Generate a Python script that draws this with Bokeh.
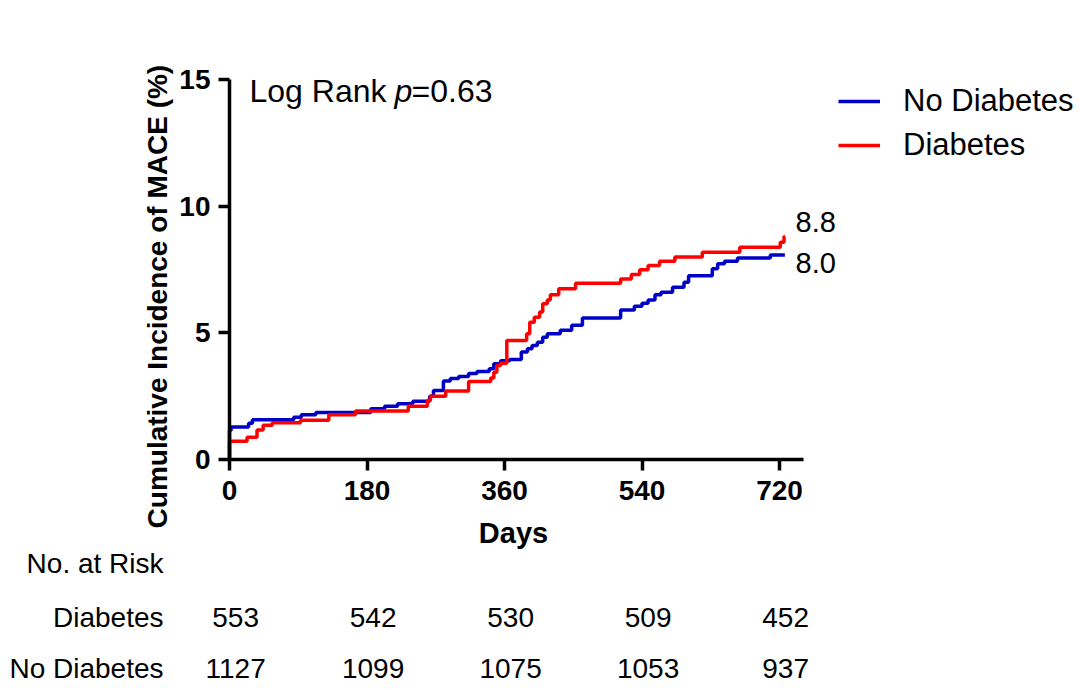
from bokeh.plotting import figure
from bokeh.models import Range1d, LinearAxis, FixedTicker, Legend, LegendItem
from bokeh.core.properties import value
from bokeh.embed import file_html
from bokeh.resources import INLINE

FONT = "Liberation Sans"

# ---------------- data ----------------
x_ticks = [0, 180, 360, 540, 720]
y_ticks = [0, 5, 10, 15]

no_diab_days = [0, 0, 2, 25, 30, 84, 94, 113, 185, 203, 220, 240, 262, 267, 280, 289, 300, 313,
                324, 340, 346, 355, 367, 382, 390, 396, 403, 410, 416, 433, 448, 462, 512, 530,
                540, 548, 557, 565, 580, 595, 601, 632, 639, 648, 665, 708, 727]
no_diab_pct = [0, 1.15, 1.28, 1.43, 1.57, 1.67, 1.77, 1.86, 2.0, 2.1, 2.2, 2.3, 2.5, 2.72, 3.1, 3.2,
               3.28, 3.4, 3.47, 3.58, 3.78, 3.9, 3.95, 4.24, 4.37, 4.5, 4.63, 4.83, 4.96, 5.1, 5.3,
               5.59, 5.9, 6.05, 6.17, 6.3, 6.5, 6.6, 6.8, 7.0, 7.25, 7.53, 7.73, 7.83, 7.96, 8.07, 8.07]

diab_days = [0, 0, 23, 36, 44, 56, 93, 130, 165, 234, 259, 263, 283, 313, 342, 346, 350, 355, 363,
             389, 393, 399, 406, 410, 416, 420, 431, 453, 512, 526, 537, 548, 563, 583, 619, 668,
             721, 726, 727]
diab_pct = [0, 0.72, 0.88, 1.17, 1.35, 1.45, 1.55, 1.77, 1.92, 2.1, 2.33, 2.5, 2.7, 3.08, 3.22, 3.45,
            3.71, 3.8, 4.7, 4.96, 5.42, 5.62, 5.82, 6.15, 6.3, 6.5, 6.74, 6.96, 7.13, 7.3, 7.49, 7.66,
            7.83, 7.99, 8.18, 8.38, 8.58, 8.8, 8.8]

series_names = ["No Diabetes", "Diabetes"]
end_labels = ["8.8", "8.0"]

risk_rows = ["Diabetes", "No Diabetes"]
risk_diab = [553, 542, 530, 509, 452]
risk_nodiab = [1127, 1099, 1075, 1053, 937]

# ---------------- figure ----------------
p = figure(width=1076, height=686, output_backend="svg", toolbar_location=None,
           x_range=Range1d(-299.8, 1108.8), y_range=Range1d(-8.96, 18.12),
           x_axis_type=None, y_axis_type=None,
           min_border=0, min_border_left=0, min_border_right=0,
           min_border_top=0, min_border_bottom=0)
p.outline_line_color = None
p.background_fill_color = "white"
p.border_fill_color = "white"

xaxis = LinearAxis(fixed_location=0, bounds=(0, 751), ticker=FixedTicker(ticks=x_ticks))
yaxis = LinearAxis(fixed_location=0, bounds=(0, 15), ticker=FixedTicker(ticks=y_ticks))
for ax in (xaxis, yaxis):
    ax.axis_line_width = 3.5
    ax.axis_line_color = "black"
    ax.major_tick_line_width = 3.5
    ax.major_tick_line_color = "black"
    ax.major_tick_in = 0
    ax.major_tick_out = 11
    ax.minor_tick_line_color = None
    ax.major_label_text_font = FONT
    ax.major_label_text_font_style = "bold"
    ax.major_label_text_font_size = "28px"
    ax.major_label_text_color = "black"
xaxis.major_label_standoff = 10
yaxis.major_label_standoff = 8
p.add_layout(xaxis, "below")
p.add_layout(yaxis, "left")

blue = p.step(no_diab_days, no_diab_pct, mode="after", line_color="#0000C8", line_width=3.5)
red = p.step(diab_days, diab_pct, mode="after", line_color="#FF0000", line_width=3.5)

legend = Legend(items=[LegendItem(label=series_names[0], renderers=[blue]),
                       LegendItem(label=series_names[1], renderers=[red])],
                location=(838, 521), glyph_width=42, glyph_height=40, label_height=40,
                spacing=4, label_standoff=23, padding=0, margin=0,
                border_line_color=None, background_fill_alpha=0,
                label_text_font=FONT, label_text_font_size="31px",
                label_text_color="black")
p.add_layout(legend)

def txt(x, y, t, size, align="left", style="normal", angle=0):
    p.text(x=x, y=y, text=t, text_font=value(FONT), text_font_size=value(size),
           text_align=align, text_baseline="middle", text_font_style=style,
           text_color="black", angle=angle)

# axis titles
txt([-94.3], [6.43], ["Cumulative Incidence of MACE (%)"], "28px", align="center",
    style="bold", angle=1.5708)
txt([371.8], [-2.92], ["Days"], "29px", align="center", style="bold")

# log rank annotation
txt([26.2], [14.53], ["Log Rank"], "32px")
txt([216.0], [14.53], ["p"], "32px", style="italic")
txt([238.3], [14.53], ["=0.63"], "32px")

# end values
txt([741, 741], [9.36, 7.74], end_labels, "29px")

# risk table
col_x = [d + 8 for d in x_ticks]
txt([-86.4], [-4.11], ["No. at Risk"], "28px", align="right")
txt([-86.4, -86.4], [-6.24, -8.25], risk_rows, "28px", align="right")
txt(col_x, [-6.24] * 5, [str(v) for v in risk_diab], "28px", align="center")
txt(col_x, [-8.25] * 5, [str(v) for v in risk_nodiab], "28px", align="center")

open("out.html", "w").write(file_html(p, INLINE))
